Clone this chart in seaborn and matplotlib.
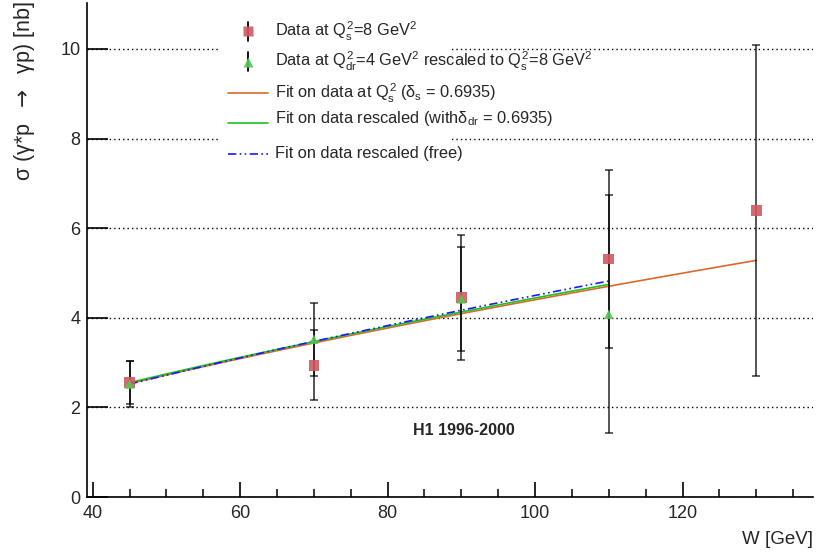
import numpy as np
import matplotlib
matplotlib.use("Agg")
import matplotlib.pyplot as plt
from matplotlib.patches import Rectangle
from matplotlib.lines import Line2D
from matplotlib.ticker import MultipleLocator
import seaborn as sns

# ---- data -------------------------------------------------------------
W_s = [45, 70, 90, 110, 130]                 # W [GeV], Q^2 = 8 GeV^2
sigma_s = [2.55, 2.94, 4.45, 5.31, 6.40]     # nb
err_s = [0.48, 0.78, 1.39, 1.99, 3.69]

W_dr = [45, 70, 90, 110]                     # W [GeV], Q^2 = 4 GeV^2 rescaled
sigma_dr = [2.52, 3.52, 4.42, 4.08]
err_dr = [0.52, 0.82, 1.17, 2.66]

# power-law fits  sigma = A * W^delta
fit_s = dict(A=0.1806, delta=0.6935, wmin=45, wmax=130)
fit_dr = dict(A=0.1822, delta=0.6935, wmin=45, wmax=110)
fit_free = dict(A=0.1589, delta=0.726, wmin=45, wmax=110)

# ---- style ------------------------------------------------------------
sns.set_style("ticks")
plt.rcParams["font.family"] = ["Liberation Sans", "DejaVu Sans"]
plt.rcParams["mathtext.fontset"] = "custom"
plt.rcParams["mathtext.rm"] = "Liberation Sans"
plt.rcParams["mathtext.it"] = "Liberation Sans"
plt.rcParams["mathtext.bf"] = "Liberation Sans:bold"

RED = "#d05a5f"
GREEN = "#52c852"
C_FIT_S = "#d9692e"
C_FIT_DR = "#1ec21e"
C_FIT_FREE = "#1a1aff"
DASHDOT = (0, (5, 2, 1, 2, 1, 2))

FW, FH = 818, 558
fig = plt.figure(figsize=(FW / 100, FH / 100), dpi=100)
ax = fig.add_axes([87.3 / FW, 61 / FH, (813 - 87.3) / FW, (554.7 - 61) / FH])


def fpos(x, y):
    """pixel position measured from the top-left -> figure fraction"""
    return x / FW, 1 - y / FH


# fit curves
for fit, col, ls in [(fit_s, C_FIT_S, "-"), (fit_dr, C_FIT_DR, "-"),
                     (fit_free, C_FIT_FREE, DASHDOT)]:
    w = np.linspace(fit["wmin"], fit["wmax"], 100)
    sns.lineplot(x=w, y=fit["A"] * w ** fit["delta"], ax=ax, color=col,
                 lw=1.2, linestyle=ls, zorder=3)

# error bars
for xs, ys, es in [(W_s, sigma_s, err_s), (W_dr, sigma_dr, err_dr)]:
    ax.errorbar(xs, ys, yerr=es, fmt="none", ecolor="black", alpha=0.72,
                elinewidth=1.3, capsize=3, capthick=1.2, zorder=4)

# data points
sns.scatterplot(x=W_s, y=sigma_s, ax=ax, marker="s", s=58, color=RED,
                edgecolor="none", alpha=0.9, zorder=5)
sns.scatterplot(x=W_dr, y=sigma_dr, ax=ax, marker="^", s=45, color=GREEN,
                edgecolor="none", alpha=0.9, zorder=6)

# axes
ax.set_xlim(39.27, 137.7)
ax.set_ylim(0, 11.02)
ax.xaxis.set_major_locator(MultipleLocator(20))
ax.xaxis.set_minor_locator(MultipleLocator(5))
ax.yaxis.set_major_locator(MultipleLocator(2))
ax.tick_params(axis="x", which="major", direction="in", length=10.5, width=1.2,
               labelsize=13, pad=6, color="black")
ax.tick_params(axis="x", which="minor", direction="in", length=5.8, width=1.1,
               color="black")
ax.tick_params(axis="y", which="major", direction="in", length=15, width=1.2,
               labelsize=13, pad=5, color="black")
ax.set_xlabel("")
ax.set_ylabel("")
for side in ("top", "right"):
    ax.spines[side].set_visible(False)
for side in ("left", "bottom"):
    ax.spines[side].set_linewidth(1.2)
    ax.spines[side].set_color("black")
ax.set_axisbelow(True)
ax.yaxis.grid(True, color="black", linestyle=(0, (1, 2.2)), linewidth=1.0)
ax.xaxis.grid(False)

# experiment label
ax.text(90.3, 1.49, "H1 1996-2000", fontsize=11.5, fontweight="bold",
        ha="center", va="center", zorder=7)

# axis titles
fig.text(*fpos(813, 540), "W [GeV]", fontsize=13.5, ha="right", va="center")
fig.text(*fpos(25, 1), "σ (γ*p  $\\rightarrow$  γp) [nb]", fontsize=15.5,
         rotation=90, ha="center", va="top", math_fontfamily="dejavusans")

# ---- legend -----------------------------------------------------------
x0, y0 = fpos(218, 168)
x1, y1 = fpos(452, 8)
fig.patches.append(Rectangle((x0, y0), x1 - x0, y1 - y0, transform=fig.transFigure,
                             facecolor="white", edgecolor="none", zorder=1))

TX = 275
LFS = 11.8
# data entries
for yc, mk, col, ms in [(31, "s", RED, 7.5), (61.7, "^", GREEN, 6.5)]:
    bx, by_top = fpos(248, yc - 9.5)
    _, by_bot = fpos(248, yc + 9.5)
    fig.lines.append(Line2D([bx, bx], [by_bot, by_top], transform=fig.transFigure,
                            color="black", lw=1.3, zorder=2))
    mx, my = fpos(248, yc)
    fig.lines.append(Line2D([mx], [my], transform=fig.transFigure, marker=mk,
                            markersize=ms, color=col, markeredgecolor="none",
                            alpha=0.9, zorder=3))

fig.text(*fpos(TX, 31), "Data at $Q^{2}_{s}$=8 GeV$^{2}$", fontsize=LFS,
         va="center", ha="left", zorder=4)
fig.text(*fpos(TX, 61.7),
         "Data at $Q^{2}_{dr}$=4 GeV$^{2}$ rescaled to $Q^{2}_{s}$=8 GeV$^{2}$",
         fontsize=LFS, va="center", ha="left", zorder=4)

# fit entries
for yl, yt, col, ls, txt in [
        (92.7, 93.3, C_FIT_S, "-", "Fit on data at $Q^{2}_{s}$ ($\\delta_{s}$ = 0.6935)"),
        (123.3, 118.3, C_FIT_DR, "-", "Fit on data rescaled (with$\\delta_{dr}$ = 0.6935)"),
        (154, 153.3, C_FIT_FREE, DASHDOT, "Fit on data rescaled (free)")]:
    lx0, ly = fpos(228, yl)
    lx1, _ = fpos(268, yl)
    fig.lines.append(Line2D([lx0, lx1], [ly, ly], transform=fig.transFigure,
                            color=col, lw=1.2, linestyle=ls, zorder=3))
    fig.text(*fpos(TX, yt), txt, fontsize=LFS, va="center", ha="left", zorder=4)

fig.savefig("out.png", dpi=100)
